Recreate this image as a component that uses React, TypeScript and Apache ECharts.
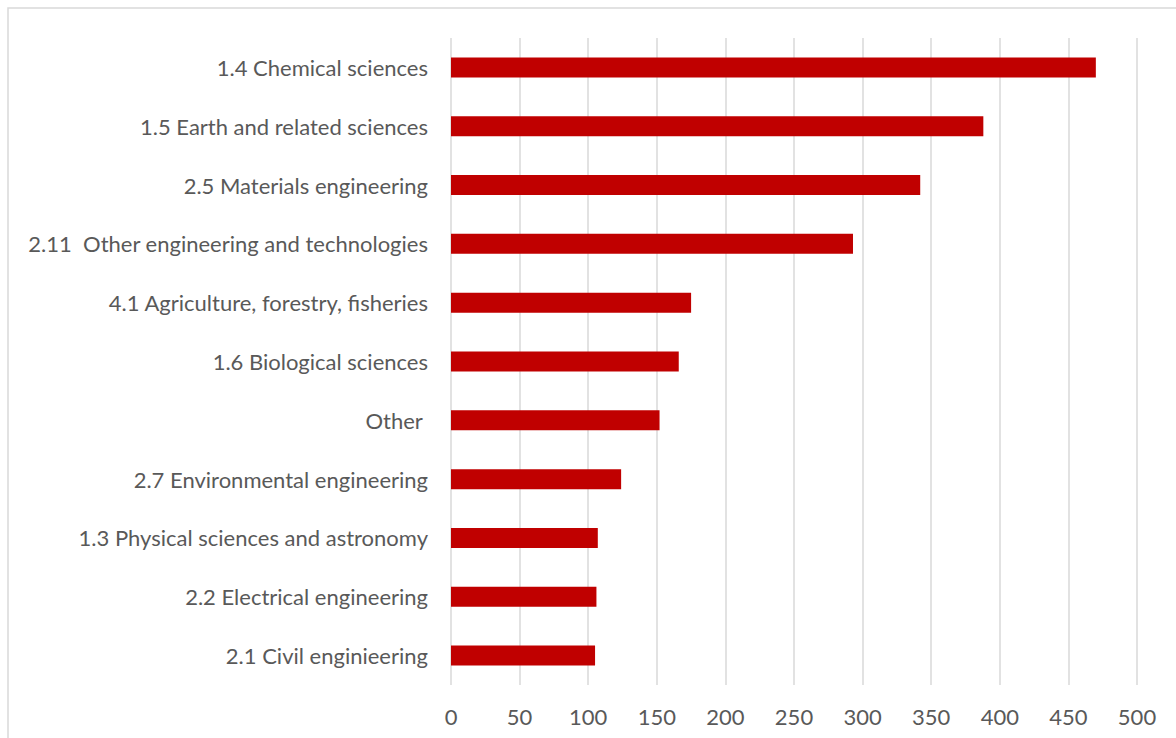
import React, { useEffect, useRef } from "react";
import * as echarts from "echarts";

const categories = [
  "1.4 Chemical sciences",
  "1.5 Earth and related sciences",
  "2.5 Materials engineering",
  "2.11  Other engineering and technologies",
  "4.1 Agriculture, forestry, fisheries",
  "1.6 Biological sciences",
  "Other ",
  "2.7 Environmental engineering",
  "1.3 Physical sciences and astronomy",
  "2.2 Electrical engineering",
  "2.1 Civil enginieering",
];
const values = [470, 388, 342, 293, 175, 166, 152, 124, 107, 106, 105];
const axisMin = 0;
const axisMax = 500;
const axisInterval = 50;

export default function App() {
  const ref = useRef<HTMLDivElement>(null);
  useEffect(() => {
    if (!ref.current) return;
    const chart = echarts.init(ref.current, undefined, { renderer: "svg" });
    const font = "Lato, 'Noto Sans', sans-serif";
    chart.setOption({
      animation: false,
      backgroundColor: "#ffffff",
      graphic: [
        {
          type: "rect",
          shape: { x: 8, y: 8, width: 1300, height: 900 },
          style: { fill: "none", stroke: "#d9d9d9", lineWidth: 1.5 },
          silent: true,
        },
      ],
      grid: { left: 451, right: 39, top: 38, bottom: 53 },
      xAxis: {
        type: "value",
        min: axisMin,
        max: axisMax,
        interval: axisInterval,
        axisLine: { show: false },
        axisTick: { show: false },
        axisLabel: { color: "#595959", fontSize: 22, fontFamily: font, margin: 20 },
        splitLine: { show: true, lineStyle: { color: "#d9d9d9", width: 1.5 } },
      },
      yAxis: {
        type: "category",
        data: categories,
        inverse: true,
        axisLine: { show: false },
        axisTick: { show: false },
        axisLabel: { color: "#595959", fontSize: 22, fontFamily: font, margin: 23 },
        splitLine: { show: false },
      },
      series: [
        {
          type: "bar",
          data: values,
          barWidth: 20,
          itemStyle: { color: "#c00000" },
        },
      ],
    });
    return () => chart.dispose();
  }, []);
  return (
    <div
      ref={ref}
      style={{ position: "fixed", left: 0, top: 0, width: 1176, height: 738 }}
    />
  );
}
